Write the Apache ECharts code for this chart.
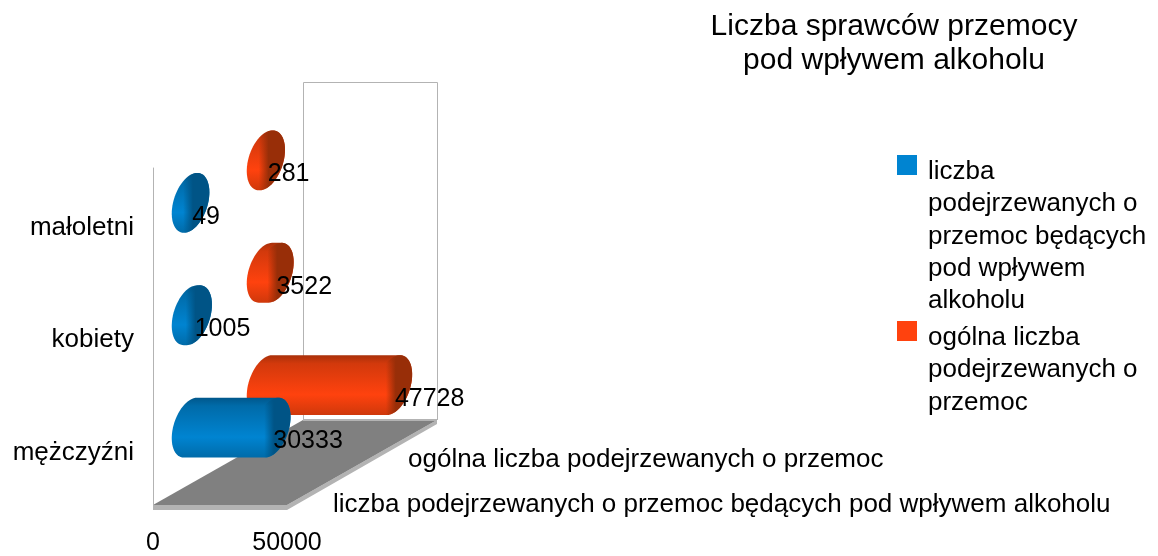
<!DOCTYPE html>
<html><head><meta charset="utf-8">
<style>html,body{margin:0;padding:0;background:#fff}#c{width:1158px;height:556px}</style>
<script src="https://cdn.jsdelivr.net/npm/echarts@6/dist/echarts.min.js"></script>
</head><body><div id="c"></div>
<script>
const categories = ['mężczyźni', 'kobiety', 'małoletni'];
const suspectsDrunk = [30333, 1005, 49];
const suspectsAll = [47728, 3522, 281];
const nameDrunk = 'liczba podejrzewanych o przemoc będących pod wpływem alkoholu';
const nameAll = 'ogólna liczba podejrzewanych o przemoc';
const legendDrunk = 'liczba\npodejrzewanych o\nprzemoc będących\npod wpływem\nalkoholu';
const legendAll = 'ogólna liczba\npodejrzewanych o\nprzemoc';
const titleText = 'Liczba sprawców przemocy\npod wpływem alkoholu';

const FONT = '"Liberation Sans", Arial, sans-serif';
const FS = 26;
const FS_NUM = 25;
const DEPTH_X = 150, DEPTH_Y = -85;
const AX = 18.75, AY = -10.6, BY = -28;
const T0 = Math.atan2(28, 10.6);

function ellipsePts(cx, cy, from, to, n) {
  const pts = [];
  for (let i = 0; i <= n; i++) {
    const t = from + (to - from) * i / n;
    pts.push([cx + AX * Math.cos(t), cy + AY * Math.cos(t) + BY * Math.sin(t)]);
  }
  return pts;
}

function cylinder(depthFrac, stops, capRgb, labelDx) {
  return function (params, api) {
    const v = api.value(0), c = api.value(1);
    const end = api.coord([v, c]);
    const start = api.coord([0, c]);
    const ox = DEPTH_X * depthFrac, oy = DEPTH_Y * depthFrac;
    const sx = start[0] + ox, ex = end[0] + ox, cy = end[1] + oy;
    const hull = ellipsePts(sx, cy, T0, T0 + Math.PI, 32)
      .concat(ellipsePts(ex, cy, T0 + Math.PI, T0 + 2 * Math.PI, 32));
    const cap = ellipsePts(ex, cy, 0, 2 * Math.PI, 64);
    return {
      type: 'group',
      children: [
        { type: 'polygon', shape: { points: hull },
          style: { fill: new echarts.graphic.LinearGradient(0, 0, 0, 1, stops) } },
        { type: 'polygon', shape: { points: cap },
          style: { fill: new echarts.graphic.LinearGradient(0, 0, 1, 0, [
            { offset: 0, color: 'rgba(' + capRgb + ',0)' },
            { offset: 0.3, color: 'rgba(' + capRgb + ',0)' },
            { offset: 0.56, color: 'rgba(' + capRgb + ',1)' },
            { offset: 1, color: 'rgba(' + capRgb + ',1)' }
          ]) } },
        { type: 'text', z2: 50,
          style: { text: String(v), x: ex + labelDx, y: cy + 14, fill: '#000',
            fontFamily: FONT, fontSize: FS_NUM, verticalAlign: 'middle', align: 'left' } }
      ]
    };
  };
}

const blueStops = [
  { offset: 0, color: '#00578b' }, { offset: 0.14, color: '#006ba9' },
  { offset: 0.66, color: '#0084d1' }, { offset: 1, color: '#006ba9' }
];
const redStops = [
  { offset: 0, color: '#a8300a' }, { offset: 0.14, color: '#d2390c' },
  { offset: 0.66, color: '#ff420e' }, { offset: 1, color: '#cf380b' }
];

const chart = echarts.init(document.getElementById('c'), null, { renderer: 'canvas' });
const pairs = a => a.map((v, i) => [v, i]);

chart.setOption({
  animation: false,
  backgroundColor: '#fff',
  textStyle: { fontFamily: FONT },
  title: {
    text: titleText, left: 889, top: 5, textAlign: 'center',
    textStyle: { fontFamily: FONT, fontSize: 30, fontWeight: 'normal', color: '#000', lineHeight: 34 }
  },
  legend: [
    { orient: 'vertical', left: 897, top: 155, padding: 0, selectedMode: false,
      itemWidth: 26, itemHeight: 163, data: [{ name: nameDrunk, icon: 'path://M0 0H20V20H0Z M26 163L26 163' }],
      formatter: () => legendDrunk,
      textStyle: { fontFamily: FONT, fontSize: FS, color: '#000', lineHeight: 32.4 } },
    { orient: 'vertical', left: 897, top: 321, padding: 0, selectedMode: false,
      itemWidth: 26, itemHeight: 98, data: [{ name: nameAll, icon: 'path://M0 0H20V20H0Z M26 98L26 98' }],
      formatter: () => legendAll,
      textStyle: { fontFamily: FONT, fontSize: FS, color: '#000', lineHeight: 32.4 } }
  ],
  grid: { left: 153, top: 168, width: 134, height: 337, containLabel: false },
  xAxis: {
    type: 'value', min: 0, max: 50000, interval: 50000,
    axisLine: { show: false }, axisTick: { show: false }, splitLine: { show: false },
    axisLabel: { margin: 26, color: '#000', fontFamily: FONT, fontSize: FS_NUM, formatter: v => String(v), showMinLabel: true, showMaxLabel: true, hideOverlap: false }
  },
  yAxis: {
    type: 'category', data: categories,
    axisLine: { show: true, lineStyle: { color: '#b3b3b3', width: 1 } },
    axisTick: { show: false },
    axisLabel: {
      margin: 19, interval: 0, formatter: v => '{c|' + v + '}',
      rich: { c: { color: '#000', fontFamily: FONT, fontSize: FS, padding: [7, 0, 0, 0] } }
    }
  },
  graphic: [
    { type: 'polyline', z: -2, shape: { points: [[303.5, 420], [303.5, 82.5], [437.5, 82.5], [437.5, 420]] },
      style: { stroke: '#b3b3b3', lineWidth: 1, fill: null } },
    { type: 'polygon', z: -1, shape: { points: [[153, 505], [287, 505], [437, 420], [437, 424], [287, 510], [153, 510]] },
      style: { fill: '#b3b3b3' } },
    { type: 'polygon', z: -1, shape: { points: [[153, 505], [287, 505], [437, 420], [303, 420]] },
      style: { fill: '#808080' } },
    { type: 'line', z: -1, shape: { x1: 303, y1: 420, x2: 437, y2: 420 }, style: { stroke: '#b3b3b3', lineWidth: 2 } },
    { type: 'text', z: 5, style: { text: nameAll, x: 408, y: 460, fill: '#000', fontFamily: FONT, fontSize: FS, verticalAlign: 'middle' } },
    { type: 'text', z: 5, style: { text: nameDrunk, x: 333, y: 505, fill: '#000', fontFamily: FONT, fontSize: FS, verticalAlign: 'middle' } }
  ],
  series: [
    { type: 'custom', name: nameAll, z: 3, silent: true, clip: false, coordinateSystem: 'cartesian2d',
      itemStyle: { color: '#ff420e' }, encode: { x: 0, y: 1 }, data: pairs(suspectsAll),
      renderItem: cylinder(0.75, redStops, '152,46,8', 1.5) },
    { type: 'custom', name: nameDrunk, z: 4, silent: true, clip: false, coordinateSystem: 'cartesian2d',
      itemStyle: { color: '#0084d1' }, encode: { x: 0, y: 1 }, data: pairs(suspectsDrunk),
      renderItem: cylinder(0.25, blueStops, '0,84,134', 1.5) }
  ]
});
</script></body></html>
